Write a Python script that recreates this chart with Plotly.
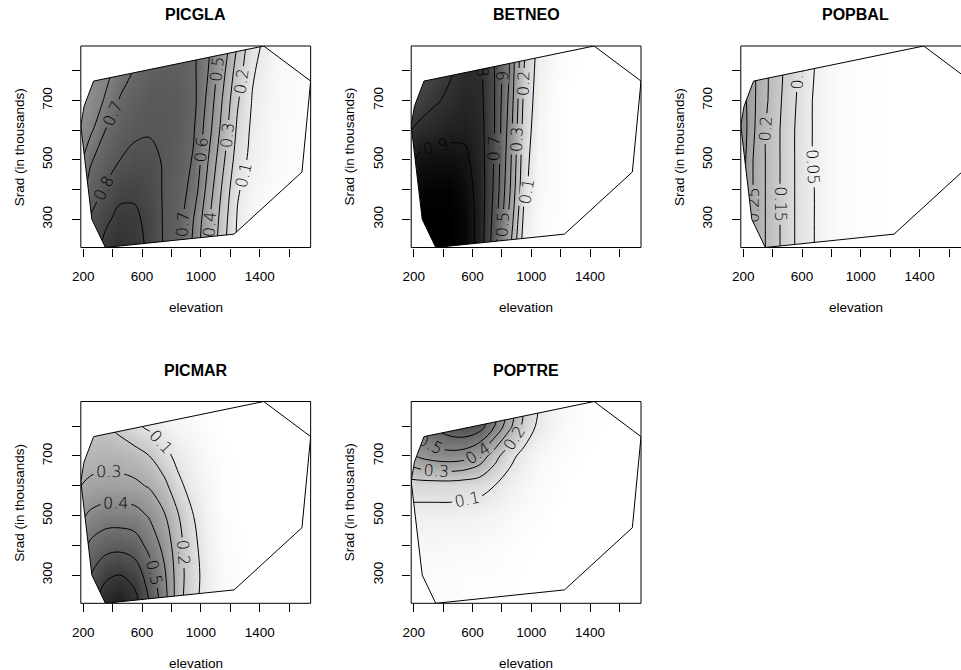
import plotly.graph_objects as go

# ---------------- data ----------------
ELEV = [183, 250, 350, 450, 550, 650, 750, 850, 950, 1050, 1150, 1250, 1350, 1500, 1747]
SRAD = [205, 300, 400, 500, 600, 700, 800, 883]

# predicted probability grids, rows follow SRAD (bottom -> top), columns follow ELEV
PICGLA = [
    [0.75, 0.84, 0.93, 0.97, 0.94, 0.88, 0.79, 0.73, 0.58, 0.40, 0.23, 0.08, 0.04, 0.02, 0.01],
    [0.72, 0.81, 0.88, 0.93, 0.92, 0.87, 0.79, 0.74, 0.60, 0.42, 0.25, 0.09, 0.04, 0.02, 0.01],
    [0.66, 0.74, 0.81, 0.87, 0.88, 0.85, 0.79, 0.75, 0.66, 0.46, 0.28, 0.11, 0.05, 0.02, 0.01],
    [0.58, 0.69, 0.75, 0.80, 0.83, 0.83, 0.79, 0.76, 0.69, 0.50, 0.32, 0.15, 0.07, 0.03, 0.01],
    [0.55, 0.58, 0.70, 0.75, 0.78, 0.79, 0.79, 0.77, 0.71, 0.54, 0.36, 0.18, 0.08, 0.03, 0.01],
    [0.50, 0.54, 0.61, 0.71, 0.75, 0.78, 0.78, 0.77, 0.73, 0.57, 0.39, 0.21, 0.095, 0.035, 0.01],
    [0.52, 0.55, 0.57, 0.64, 0.71, 0.75, 0.76, 0.75, 0.72, 0.60, 0.43, 0.25, 0.11, 0.04, 0.01],
    [0.50, 0.53, 0.55, 0.62, 0.69, 0.73, 0.75, 0.74, 0.72, 0.62, 0.47, 0.29, 0.13, 0.05, 0.01],
]
BETNEO = [
    [0.97, 1.00, 1.00, 1.00, 0.97, 0.86, 0.64, 0.33, 0.05, 0.01, 0.0, 0.0, 0.0, 0.0, 0.0],
    [0.96, 1.00, 1.00, 1.00, 0.97, 0.86, 0.66, 0.38, 0.08, 0.02, 0.01, 0.0, 0.0, 0.0, 0.0],
    [0.94, 0.98, 0.99, 0.99, 0.95, 0.86, 0.68, 0.42, 0.12, 0.03, 0.01, 0.0, 0.0, 0.0, 0.0],
    [0.88, 0.93, 0.94, 0.94, 0.92, 0.85, 0.69, 0.44, 0.14, 0.03, 0.01, 0.0, 0.0, 0.0, 0.0],
    [0.80, 0.83, 0.85, 0.87, 0.88, 0.84, 0.70, 0.46, 0.16, 0.04, 0.01, 0.0, 0.0, 0.0, 0.0],
    [0.72, 0.75, 0.79, 0.82, 0.85, 0.83, 0.70, 0.48, 0.18, 0.05, 0.015, 0.0, 0.0, 0.0, 0.0],
    [0.66, 0.70, 0.75, 0.79, 0.83, 0.82, 0.70, 0.50, 0.20, 0.06, 0.02, 0.005, 0.0, 0.0, 0.0],
    [0.62, 0.66, 0.71, 0.76, 0.80, 0.80, 0.68, 0.50, 0.22, 0.07, 0.02, 0.005, 0.0, 0.0, 0.0],
]
POPBAL = [
    [0.31, 0.25, 0.20, 0.15, 0.10, 0.06, 0.03, 0.015, 0.008, 0.004, 0.002, 0.0, 0.0, 0.0, 0.0],
    [0.32, 0.26, 0.20, 0.15, 0.10, 0.06, 0.03, 0.015, 0.008, 0.004, 0.002, 0.0, 0.0, 0.0, 0.0],
    [0.33, 0.26, 0.20, 0.15, 0.10, 0.06, 0.03, 0.015, 0.008, 0.004, 0.002, 0.0, 0.0, 0.0, 0.0],
    [0.34, 0.26, 0.20, 0.15, 0.10, 0.055, 0.03, 0.015, 0.008, 0.004, 0.002, 0.0, 0.0, 0.0, 0.0],
    [0.35, 0.27, 0.20, 0.15, 0.10, 0.055, 0.03, 0.015, 0.008, 0.004, 0.002, 0.0, 0.0, 0.0, 0.0],
    [0.34, 0.27, 0.21, 0.155, 0.105, 0.055, 0.03, 0.015, 0.008, 0.004, 0.002, 0.0, 0.0, 0.0, 0.0],
    [0.32, 0.27, 0.21, 0.16, 0.11, 0.06, 0.03, 0.015, 0.008, 0.004, 0.002, 0.0, 0.0, 0.0, 0.0],
    [0.30, 0.26, 0.21, 0.16, 0.11, 0.06, 0.03, 0.015, 0.008, 0.004, 0.002, 0.0, 0.0, 0.0, 0.0],
]
PICMAR = [
    [0.56, 0.66, 0.76, 0.80, 0.74, 0.60, 0.45, 0.23, 0.12, 0.06, 0.02, 0.01, 0.0, 0.0, 0.0],
    [0.52, 0.60, 0.68, 0.70, 0.66, 0.55, 0.42, 0.24, 0.13, 0.06, 0.02, 0.01, 0.0, 0.0, 0.0],
    [0.45, 0.52, 0.56, 0.57, 0.55, 0.47, 0.37, 0.23, 0.12, 0.05, 0.015, 0.005, 0.0, 0.0, 0.0],
    [0.38, 0.42, 0.45, 0.45, 0.44, 0.39, 0.31, 0.20, 0.10, 0.04, 0.01, 0.0, 0.0, 0.0, 0.0],
    [0.30, 0.32, 0.33, 0.33, 0.32, 0.29, 0.23, 0.12, 0.06, 0.03, 0.01, 0.0, 0.0, 0.0, 0.0],
    [0.24, 0.26, 0.27, 0.26, 0.24, 0.20, 0.13, 0.07, 0.04, 0.02, 0.005, 0.0, 0.0, 0.0, 0.0],
    [0.19, 0.20, 0.20, 0.17, 0.12, 0.08, 0.05, 0.03, 0.02, 0.01, 0.0, 0.0, 0.0, 0.0, 0.0],
    [0.15, 0.16, 0.16, 0.14, 0.10, 0.06, 0.04, 0.02, 0.01, 0.0, 0.0, 0.0, 0.0, 0.0, 0.0],
]
POPTRE = [
    [0.01, 0.01, 0.01, 0.01, 0.005, 0.005, 0.005, 0.0, 0.0, 0.0, 0.0, 0.0, 0.0, 0.0, 0.0],
    [0.02, 0.02, 0.015, 0.015, 0.01, 0.01, 0.01, 0.005, 0.0, 0.0, 0.0, 0.0, 0.0, 0.0, 0.0],
    [0.03, 0.03, 0.03, 0.025, 0.025, 0.02, 0.015, 0.01, 0.005, 0.0, 0.0, 0.0, 0.0, 0.0, 0.0],
    [0.06, 0.06, 0.06, 0.06, 0.055, 0.05, 0.04, 0.025, 0.015, 0.01, 0.0, 0.0, 0.0, 0.0, 0.0],
    [0.15, 0.15, 0.15, 0.15, 0.14, 0.13, 0.10, 0.06, 0.035, 0.02, 0.01, 0.0, 0.0, 0.0, 0.0],
    [0.38, 0.42, 0.45, 0.46, 0.44, 0.37, 0.24, 0.13, 0.07, 0.03, 0.015, 0.01, 0.0, 0.0, 0.0],
    [0.50, 0.56, 0.62, 0.67, 0.69, 0.65, 0.50, 0.33, 0.17, 0.08, 0.04, 0.02, 0.01, 0.0, 0.0],
    [0.48, 0.54, 0.60, 0.65, 0.68, 0.66, 0.54, 0.38, 0.21, 0.10, 0.05, 0.02, 0.01, 0.0, 0.0],
]

SPECIES = ["PICGLA", "BETNEO", "POPBAL", "PICMAR", "POPTRE"]
GRIDS = [PICGLA, BETNEO, POPBAL, PICMAR, POPTRE]
LEVELS = [(0.1, 0.9, 0.1), (0.1, 0.9, 0.1), (0.05, 0.35, 0.05), (0.1, 0.7, 0.1), (0.1, 0.6, 0.1)]

# convex hull of the sampled plots (elevation, Srad)
HULL_ELEV = [270, 205, 183, 258, 350, 1226, 1688, 1747, 1428]
HULL_SRAD = [765, 680, 615, 300, 205, 250, 459, 765, 883]

X_TICKS = [200, 400, 600, 800, 1000, 1200, 1400, 1600]
X_TEXT = ["200", "", "600", "", "1000", "", "1400", ""]
Y_TICKS = [300, 400, 500, 600, 700, 800]
Y_TEXT = ["300", "", "500", "", "700", ""]

# ---------------- layout geometry (pixels) ----------------
W, H = 961, 670
XMIN, XMAX = 183, 1747
YMIN, YMAX = 205, 883
COLS = [(72.5, 304.5), (406.0, 638.0), (738.7, 970.7)]
ROWS = [(46.0, 247.5), (401.5, 603.3)]
POS = [(0, 0), (0, 1), (0, 2), (1, 0), (1, 1)]
ZMAX = [1.2, 1.0, 0.75, 0.9, 1.0]

FONT = "Liberation Sans, Arial, sans-serif"

fig = go.Figure()
shapes = []
annotations = []

gray = [[0.0, "#ffffff"], [1.0, "#000000"]]

hull_path = "M " + " L ".join(f"{x},{y}" for x, y in zip(HULL_ELEV, HULL_SRAD)) + " Z"

for i, (name, grid, lev) in enumerate(zip(SPECIES, GRIDS, LEVELS)):
    r, c = POS[i]
    n = i + 1
    xa = "x" if n == 1 else f"x{n}"
    ya = "y" if n == 1 else f"y{n}"
    xl, xr = COLS[c]
    yt, yb = ROWS[r]
    xr_vis = min(xr, W)
    dom_x = [xl / W, xr_vis / W]
    dom_y = [1 - yb / H, 1 - yt / H]
    xmax_vis = XMIN + (XMAX - XMIN) * (xr_vis - xl) / (xr - xl)

    fig.add_trace(go.Contour(
        x=ELEV, y=SRAD, z=grid,
        xaxis=xa, yaxis=ya,
        colorscale=gray, zmin=0, zmax=ZMAX[i], zauto=False,
        showscale=False,
        autocontour=False,
        contours=dict(start=lev[0], end=lev[1] + 1e-9, size=lev[2],
                      coloring="heatmap", showlabels=True,
                      labelfont=dict(family="DejaVu Sans", size=16, color="black", weight=300),
                      labelformat=".2~f"),
        line=dict(color="black", width=1, smoothing=1.0),
        hoverinfo="skip",
    ))

    axkey_x = "xaxis" if n == 1 else f"xaxis{n}"
    axkey_y = "yaxis" if n == 1 else f"yaxis{n}"
    fig.layout[axkey_x] = dict(
        domain=dom_x, range=[XMIN, xmax_vis], anchor=ya,
        showgrid=False, zeroline=False, showline=False,
        ticks="outside", ticklen=8, tickwidth=1, tickcolor="black",
        tickvals=X_TICKS, ticktext=X_TEXT,
        tickfont=dict(family=FONT, size=13.5, color="black"),
        ticklabelstandoff=8, fixedrange=True,
    )
    fig.layout[axkey_y] = dict(
        domain=dom_y, range=[YMIN, YMAX], anchor=xa,
        showgrid=False, zeroline=False, showline=False,
        ticks="outside", ticklen=8, tickwidth=1, tickcolor="black",
        tickvals=Y_TICKS, ticktext=Y_TEXT, tickangle=-90,
        tickfont=dict(family=FONT, size=13.5, color="black"),
        ticklabelstandoff=14, fixedrange=True,
    )

    # white mask outside the convex hull
    mask = "M 0,0 L 3000,0 L 3000,2000 L 0,2000 Z " + hull_path
    shapes.append(dict(type="path", xref=xa, yref=ya, path=mask,
                       fillcolor="white", fillrule="evenodd",
                       line=dict(width=0), layer="above"))
    # hull outline
    shapes.append(dict(type="path", xref=xa, yref=ya, path=hull_path,
                       line=dict(color="black", width=1), layer="above"))
    # box frame
    shapes.append(dict(type="rect", xref="paper", yref="paper",
                       x0=xl / W, x1=xr / W, y0=1 - yb / H, y1=1 - yt / H,
                       line=dict(color="black", width=1), layer="above"))

    cx = (xl + xr) / 2 / W
    annotations.append(dict(text=f"<b>{name}</b>", x=cx, y=1 - (yt - 31) / H,
                            xref="paper", yref="paper", showarrow=False,
                            xanchor="center", yanchor="middle",
                            font=dict(family=FONT, size=16, color="black")))
    annotations.append(dict(text="elevation", x=cx, y=1 - (yb + 60) / H,
                            xref="paper", yref="paper", showarrow=False,
                            xanchor="center", yanchor="middle",
                            font=dict(family=FONT, size=13.5, color="black")))
    annotations.append(dict(text="Srad (in thousands)", x=(xl - 62) / W, y=1 - (yt + yb) / 2 / H,
                            xref="paper", yref="paper", showarrow=False, textangle=-90,
                            xanchor="center", yanchor="middle",
                            font=dict(family=FONT, size=13.5, color="black")))

fig.update_layout(
    width=W, height=H,
    margin=dict(l=0, r=0, t=0, b=0),
    paper_bgcolor="white", plot_bgcolor="white",
    showlegend=False,
    shapes=shapes, annotations=annotations,
)

fig.write_html("out.html")
